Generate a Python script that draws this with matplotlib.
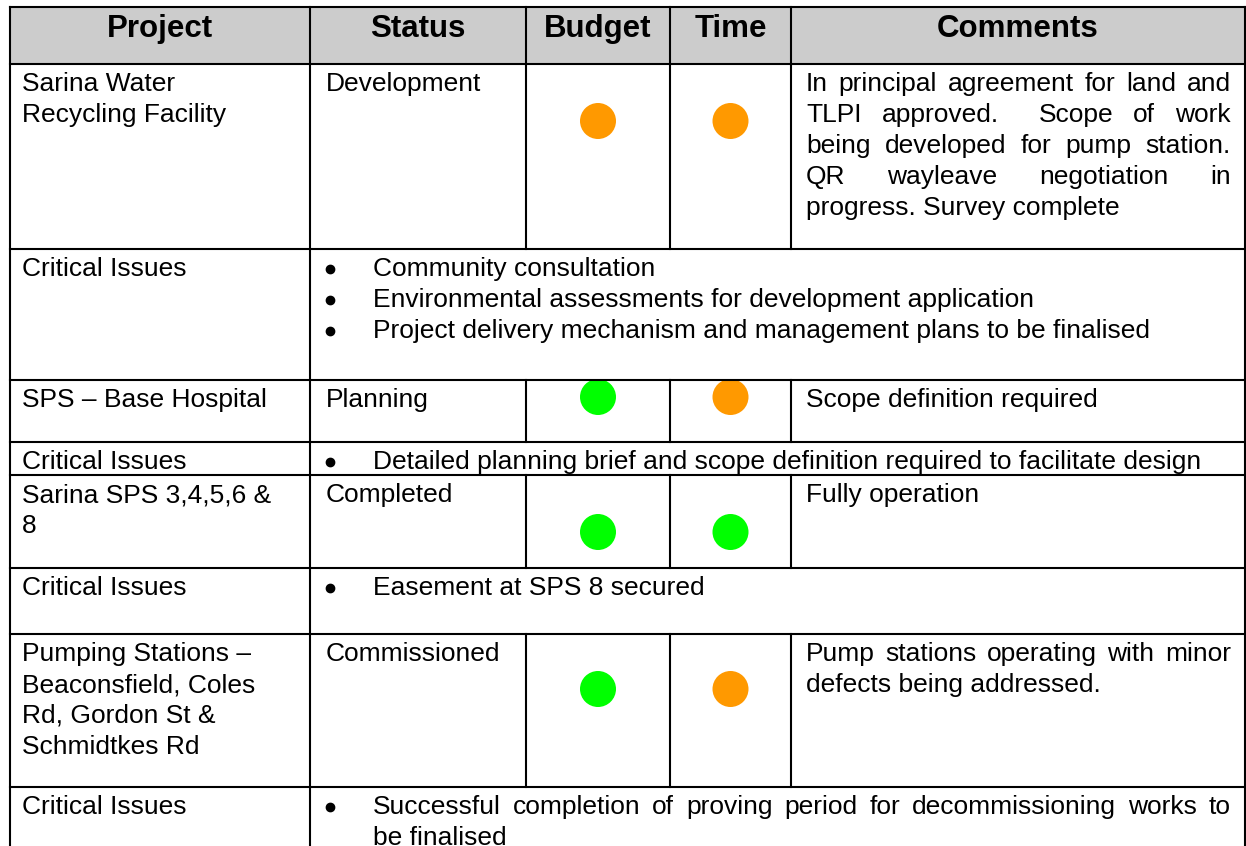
import matplotlib
matplotlib.use('Agg')
import matplotlib.pyplot as plt
from matplotlib.patches import Rectangle, Circle

# table content
headers = ["Project", "Status", "Budget", "Time", "Comments"]
projects = [
    ["Sarina Water", "Recycling Facility"],
    ["SPS \u2013 Base Hospital"],
    ["Sarina SPS 3,4,5,6 &", "8"],
    ["Pumping Stations \u2013", "Beaconsfield, Coles", "Rd, Gordon St &", "Schmidtkes Rd"],
]
statuses = ["Development", "Planning", "Completed", "Commissioned"]
budget = ["amber", "green", "green", "green"]
time_rating = ["amber", "amber", "green", "amber"]
comments = [
    ["In principal agreement for land and",
     "TLPI approved.  Scope of work",
     "being developed for pump station.",
     "QR wayleave negotiation in",
     "progress. Survey complete"],
    ["Scope definition required"],
    ["Fully operation"],
    ["Pump stations operating with minor",
     "defects being addressed."],
]
critical = [
    [["Community consultation"],
     ["Environmental assessments for development application"],
     ["Project delivery mechanism and management plans to be finalised"]],
    [["Detailed planning brief and scope definition required to facilitate design"]],
    [["Easement at SPS 8 secured"]],
    [["Successful completion of proving period for decommissioning works to",
      "be finalised"]],
]

colors = {"amber": "#ff9900", "green": "#00ff00"}

# layout (pixels)
col_x = [10, 310, 526, 670, 791, 1245]
row_y = [7, 64, 249, 380, 442, 475, 568, 634, 787, 900]
dot_offset = [57, 17, 57, 55]
pad = 12
text_right = 1231
first_base = 27
line_gap = 31
fs = 19
font = "Liberation Sans"

fig = plt.figure(figsize=(12.46, 8.46), dpi=100)
ax = fig.add_axes([0, 0, 1, 1])
ax.set_xlim(0, 1246)
ax.set_ylim(846, 0)
ax.axis('off')
renderer = fig.canvas.get_renderer()


def put_line(x0, x1, y, line, justify):
    if not justify:
        ax.text(x0, y, line, fontsize=fs, family=font, va='baseline', ha='left')
        return
    words = line.split(' ')
    texts = []
    widths = []
    for w in words:
        if w == '':
            texts.append(None)
            widths.append(0)
            continue
        t = ax.text(0, y, w, fontsize=fs, family=font, va='baseline', ha='left')
        texts.append(t)
        widths.append(t.get_window_extent(renderer).width)
    gap = (x1 - x0 - sum(widths)) / (len(words) - 1)
    x = x0
    for t, w in zip(texts, widths):
        if t is not None:
            t.set_x(x)
        x += w + gap


def put_paragraph(x0, x1, y, lines, justify=True):
    for i, line in enumerate(lines):
        put_line(x0, x1, y + i * line_gap, line, justify and i < len(lines) - 1)


# header
ax.add_patch(Rectangle((col_x[0], row_y[0]), col_x[-1] - col_x[0], row_y[1] - row_y[0],
                       facecolor='#cccccc', edgecolor='none'))
for i, h in enumerate(headers):
    ax.text((col_x[i] + col_x[i + 1]) / 2, 37, h, fontsize=22.5, fontweight='bold',
            family=font, ha='center', va='baseline')

# body
for k in range(len(projects)):
    top = row_y[1 + 2 * k]
    ctop = row_y[2 + 2 * k]
    put_paragraph(col_x[0] + pad, col_x[1], top + first_base, projects[k], justify=False)
    put_paragraph(col_x[1] + 16, col_x[2], top + first_base, [statuses[k]], justify=False)
    put_paragraph(col_x[4] + 15, text_right, top + first_base, comments[k])
    for c, rating in zip([2, 3], [budget[k], time_rating[k]]):
        cx = (col_x[c] + col_x[c + 1]) / 2
        ax.add_patch(Circle((cx, top + dot_offset[k]), 18, facecolor=colors[rating],
                            edgecolor='none'))
    # critical issues row
    put_paragraph(col_x[0] + pad, col_x[1], ctop + first_base, ["Critical Issues"], justify=False)
    y = ctop + first_base
    for item in critical[k]:
        ax.plot(330, y - 7, 'o', color='black', markersize=6)
        put_paragraph(373, text_right, y, item)
        y += line_gap * len(item)

# grid lines
lw = 1.5
ax.plot([col_x[0], col_x[-1]], [row_y[0], row_y[0]], color='black', lw=lw)
for y in row_y[1:-1]:
    ax.plot([col_x[0], col_x[-1]], [y, y], color='black', lw=lw)
ax.plot([col_x[0], col_x[0]], [row_y[0], row_y[-1]], color='black', lw=lw)
ax.plot([col_x[-1], col_x[-1]], [row_y[0], row_y[-1]], color='black', lw=lw)
ax.plot([col_x[1], col_x[1]], [row_y[0], row_y[-1]], color='black', lw=lw)
for k in range(len(projects)):
    for c in [2, 3, 4]:
        ax.plot([col_x[c], col_x[c]], [row_y[1 + 2 * k], row_y[2 + 2 * k]], color='black', lw=lw)
for c in [2, 3, 4]:
    ax.plot([col_x[c], col_x[c]], [row_y[0], row_y[1]], color='black', lw=lw)

fig.savefig('out.png', dpi=100)
